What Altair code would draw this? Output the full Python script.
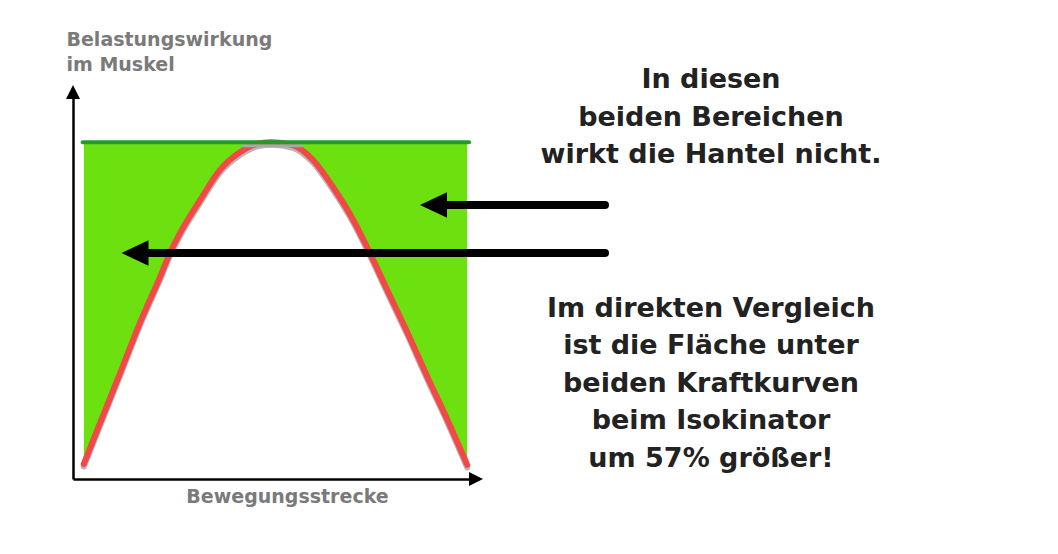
import altair as alt
import pandas as pd

# Rote Kraftkurve (Hantel): Bewegungsstrecke 0..100, Belastungswirkung 0..100
strecke = [0.3, 4.5, 9.7, 14.8, 20.0, 22.6, 25.2, 30.4, 35.5, 40.7, 45.9, 49.0,
           54.4, 59.6, 64.8, 70.0, 73.6, 78.8, 84.1, 89.2, 94.4, 99.5]
belastung = [4.5, 16.6, 31.5, 46.3, 59.9, 67.1, 73.0, 82.8, 91.7, 97.0, 99.7, 100.0,
             99.1, 94.7, 86.6, 76.9, 68.8, 56.1, 43.3, 30.3, 17.5, 4.2]
maximum = 100  # konstante Belastung beim Isokinator (grüne Fläche bis hier)

x_titel = "Bewegungsstrecke"
y_titel = ["Belastungswirkung", "im Muskel"]
text_oben = ["In diesen", "beiden Bereichen", "wirkt die Hantel nicht."]
text_unten = ["Im direkten Vergleich", "ist die Fläche unter",
              "beiden Kraftkurven", "beim Isokinator", "um 57% größer!"]

df = pd.DataFrame({"strecke": strecke, "belastung": belastung, "max": maximum})
one = pd.DataFrame({"k": [0]})

FONT = "DejaVu Sans"
W, H = 400, 384

xscale = alt.Scale(domain=[-2.5, 101], nice=False, zero=False)
yscale = alt.Scale(domain=[0, 114], nice=False, zero=False)

x_axis = alt.Axis(ticks=False, labels=False, grid=False, domain=True,
                  domainColor="black", domainWidth=2.5,
                  titleFont=FONT, titleFontSize=19, titleFontWeight="bold",
                  titleColor="#7a7a7a", titleAlign="center", titleBaseline="alphabetic",
                  titleX=214, titleY=23)
y_axis = alt.Axis(ticks=False, labels=False, grid=False, domain=True,
                  domainColor="black", domainWidth=2.5,
                  titleFont=FONT, titleFontSize=19, titleFontWeight="bold",
                  titleColor="#7a7a7a", titleAngle=0, titleAlign="left",
                  titleBaseline="alphabetic", titleX=-7, titleY=-50, titleLineHeight=25)


def X(field):
    return alt.X(field, type="quantitative", scale=xscale, axis=x_axis, title=x_titel)


def Y(field):
    return alt.Y(field, type="quantitative", scale=yscale, axis=y_axis, title=y_titel)


base = alt.Chart(df)

area = base.mark_area(color="#6de010", interpolate="monotone").encode(
    x=X("strecke"), y=Y("belastung"), y2="max:Q")

shadow = base.transform_calculate(sh="datum.belastung - 0.8").mark_line(
    color="#b8b8b8", strokeWidth=6, interpolate="monotone", strokeCap="round"
).encode(x=X("strecke"), y=Y("sh"))

red = base.mark_line(color="#f34848", strokeWidth=6, interpolate="monotone",
                     strokeCap="round").encode(x=X("strecke"), y=Y("belastung"))

peak = alt.Chart(one).mark_rule(color="#a8a8a8", strokeWidth=3).encode(
    x=alt.datum(41.2), x2=alt.datum(56.9), y=alt.datum(98.9))

top = alt.Chart(one).mark_rule(color="#1f9d2a", strokeWidth=4, strokeCap="round").encode(
    x=alt.datum(0), x2=alt.datum(100), y=alt.datum(maximum))

# Achsenpfeile
y_head = alt.Chart(one).mark_point(shape="M0,-1L1,1L-1,1Z", filled=True, size=196,
                                   color="black", opacity=1, strokeWidth=0).encode(
    x=alt.value(0), y=alt.value(-3))
x_head = alt.Chart(one).mark_point(shape="M1,0L-1,-1L-1,1Z", filled=True, size=196,
                                   color="black", opacity=1, strokeWidth=0).encode(
    x=alt.value(403), y=alt.value(H))

# Hinweispfeile
def arrow(x_tip_center, x_end, y):
    shaft = alt.Chart(one).mark_rule(color="black", strokeWidth=8, strokeCap="round").encode(
        x=alt.value(x_tip_center), x2=alt.value(x_end), y=alt.value(y))
    head = alt.Chart(one).mark_point(shape="M-1,0L1,-0.95L1,0.95Z", filled=True, size=729,
                                     color="black", opacity=1, strokeWidth=0).encode(
        x=alt.value(x_tip_center), y=alt.value(y))
    return shaft + head

arrow1 = arrow(360.5, 532, 110)
arrow2 = arrow(62, 532, 158)

txt1 = alt.Chart(one).mark_text(font=FONT, fontSize=27, fontWeight="bold", color="#222222",
                                align="center", baseline="alphabetic", lineHeight=37.5).encode(
    x=alt.value(638), y=alt.value(-6.7), text=alt.value(text_oben))
txt2 = alt.Chart(one).mark_text(font=FONT, fontSize=27, fontWeight="bold", color="#222222",
                                align="center", baseline="alphabetic", lineHeight=37.5).encode(
    x=alt.value(638), y=alt.value(221.7), text=alt.value(text_unten))

chart = alt.layer(area, shadow, red, peak, top, y_head, x_head, arrow1, arrow2, txt1, txt2).properties(
    width=W, height=H, autosize="none",
    padding={"left": 65, "top": 87, "right": 1042 - 65 - W, "bottom": 538 - 87 - H},
    background="white",
).configure_view(stroke=None)

chart.save("out.html", embed_options={"renderer": "svg", "actions": False})
